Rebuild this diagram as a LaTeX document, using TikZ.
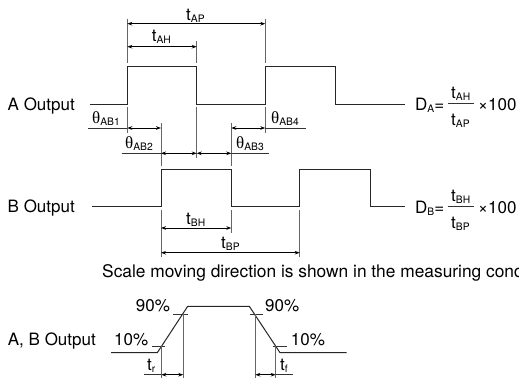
\documentclass[tikz,border=0pt]{standalone}
\usepackage{fontspec}
\setmainfont{TeX Gyre Heros}
\newfontfamily\thetaf{Liberation Serif}
\usetikzlibrary{arrows.meta}
\newcommand{\bigf}{\fontsize{17}{18}\selectfont}
\newcommand{\subf}{\fontsize{10.3}{12}\selectfont}
\newcommand{\lab}[2]{#1\raisebox{-2pt}{\subf #2}}
\newcommand{\thetalab}[1]{\lab{{\thetaf θ}}{#1}}
\tikzset{
  x=1pt,y=-1pt,
  wave/.style={line width=1pt,black!85,line join=miter},
  guide/.style={line width=0.8pt,black!60},
  dim/.style={line width=0.8pt,black,{Stealth[length=5pt,width=3.6pt]}-{Stealth[length=5pt,width=3.6pt]}},
  rule/.style={line width=0.7pt,black!80},
  txt/.style={anchor=base west,inner sep=0pt,font=\bigf},
  txtr/.style={anchor=base east,inner sep=0pt,font=\bigf}
}
\begin{document}
\begin{tikzpicture}
\useasboundingbox (0,0) rectangle (519,378);
\clip (0,0) rectangle (519,378);
% waveforms
\draw[wave] (90,104) -- (127.3,104) -- (127.3,66.5) -- (196.7,66.5) -- (196.7,104) -- (265.3,104) -- (265.3,66.5) -- (335.7,66.5) -- (335.7,104) -- (405,104);
\draw[wave] (92,206.7) -- (161,206.7) -- (161,169.3) -- (231.3,169.3) -- (231.3,206.7) -- (299.7,206.7) -- (299.7,169.3) -- (370,169.3) -- (370,206.7) -- (405,206.7);
\draw[wave] (111,352.7) -- (157.3,352.7) -- (187.7,306.3) -- (249.3,306.3) -- (280,352.7) -- (346.7,352.7);
% guides A top
\draw[guide] (127.3,18.7) -- (127.3,63);
\draw[guide] (265.3,18.7) -- (265.3,63);
\draw[guide] (196.7,41) -- (196.7,63);
% guides between A and B
\draw[guide] (127.3,107) -- (127.3,133);
\draw[guide] (196.7,107) -- (196.7,158);
\draw[guide] (265.3,107) -- (265.3,133);
\draw[guide] (161,123) -- (161,165.7);
\draw[guide] (231.3,123) -- (231.3,165.7);
% guides B bottom
\draw[guide] (161,210) -- (161,257);
\draw[guide] (231.3,210) -- (231.3,232.7);
\draw[guide] (299.7,210) -- (299.7,257);
% dimension arrows
\draw[dim] (127.3,23.7) -- (265.3,23.7);
\draw[dim] (127.3,46.7) -- (196.7,46.7);
\draw[rule] (88,128) -- (127.3,128);
\draw[dim] (127.3,128) -- (161,128);
\draw[dim] (231.3,128) -- (265.3,128);
\draw[rule] (265.3,128) -- (305.7,128);
\draw[rule] (121.7,153.3) -- (161,153.3);
\draw[dim] (161,153.3) -- (196.7,153.3);
\draw[dim] (196.7,153.3) -- (231.3,153.3);
\draw[rule] (231.3,153.3) -- (269,153.3);
\draw[dim] (161,228) -- (231.3,228);
\draw[dim] (161,252.7) -- (299.7,252.7);
% fractions
\draw[rule] (447.7,103.7) -- (474,103.7);
\draw[rule] (447.7,206.7) -- (474,206.7);
% trapezoid ticks
\draw[rule] (173,314) -- (188,314);
\draw[rule] (250,314) -- (263,314);
\draw[rule] (152,346) -- (165,346);
\draw[rule] (273,346) -- (287,346);
\draw[guide] (161.3,346) -- (161.3,378);
\draw[guide] (183.3,314) -- (183.3,378);
\draw[guide] (255.3,314) -- (255.3,378);
\draw[guide] (275.7,346) -- (275.7,378);
\draw[rule] (144,374.7) -- (161.3,374.7);
\draw[dim] (161.3,374.7) -- (183.3,374.7);
\draw[dim] (255.3,374.7) -- (275.7,374.7);
\draw[rule] (275.7,374.7) -- (293,374.7);
% labels
\node[txt] (tap) at (186,20) {\lab{t}{AP}};
\node[txt] (tah) at (151.7,41.7) {\lab{t}{AH}};
\node[txt] (th1) at (92,123.5) {\thetalab{AB1}};
\node[txt] (th2) at (125,148.3) {\thetalab{AB2}};
\node[txt] (th3) at (236,148.3) {\thetalab{AB3}};
\node[txt] (th4) at (271,123.5) {\thetalab{AB4}};
\node[txtr] (aout) at (75,110.7) {A Output};
\node[txtr] (bout) at (75,212.7) {B Output};
\node[txtr] (about) at (96,345) {A, B Output};
\node[txt] (tbh) at (186,224) {\lab{t}{BH}};
\node[txt] (tbp) at (221,248) {\lab{t}{BP}};
\node[txt] (da) at (415,110) {\lab{D}{A}=};
\node[txt] (fan) at (451,98.3) {\lab{t}{AH}};
\node[txt] (fad) at (451,125) {\lab{t}{AP}};
\node[txt] (xa) at (478,110) {×100};
\node[txt] (db) at (415,213.3) {\lab{D}{B}=};
\node[txt] (fbn) at (451,201) {\lab{t}{BH}};
\node[txt] (fbd) at (451,228) {\lab{t}{BP}};
\node[txt] (xb) at (478,213.3) {×100};
\node[txt,font=\fontsize{17.35}{18}\selectfont] (scale) at (102,277) {Scale moving direction is shown in the measuring cond};
\node[txt] (p90l) at (135.7,311.7) {90\%};
\node[txt] (p90r) at (265,311.7) {90\%};
\node[txt] (p10l) at (114,345) {10\%};
\node[txt] (p10r) at (290.7,345) {10\%};
\node[txt] (tr) at (147,370.7) {\lab{t}{r}};
\node[txt] (tf) at (280,370.7) {\lab{t}{f}};
\end{tikzpicture}
\end{document}
